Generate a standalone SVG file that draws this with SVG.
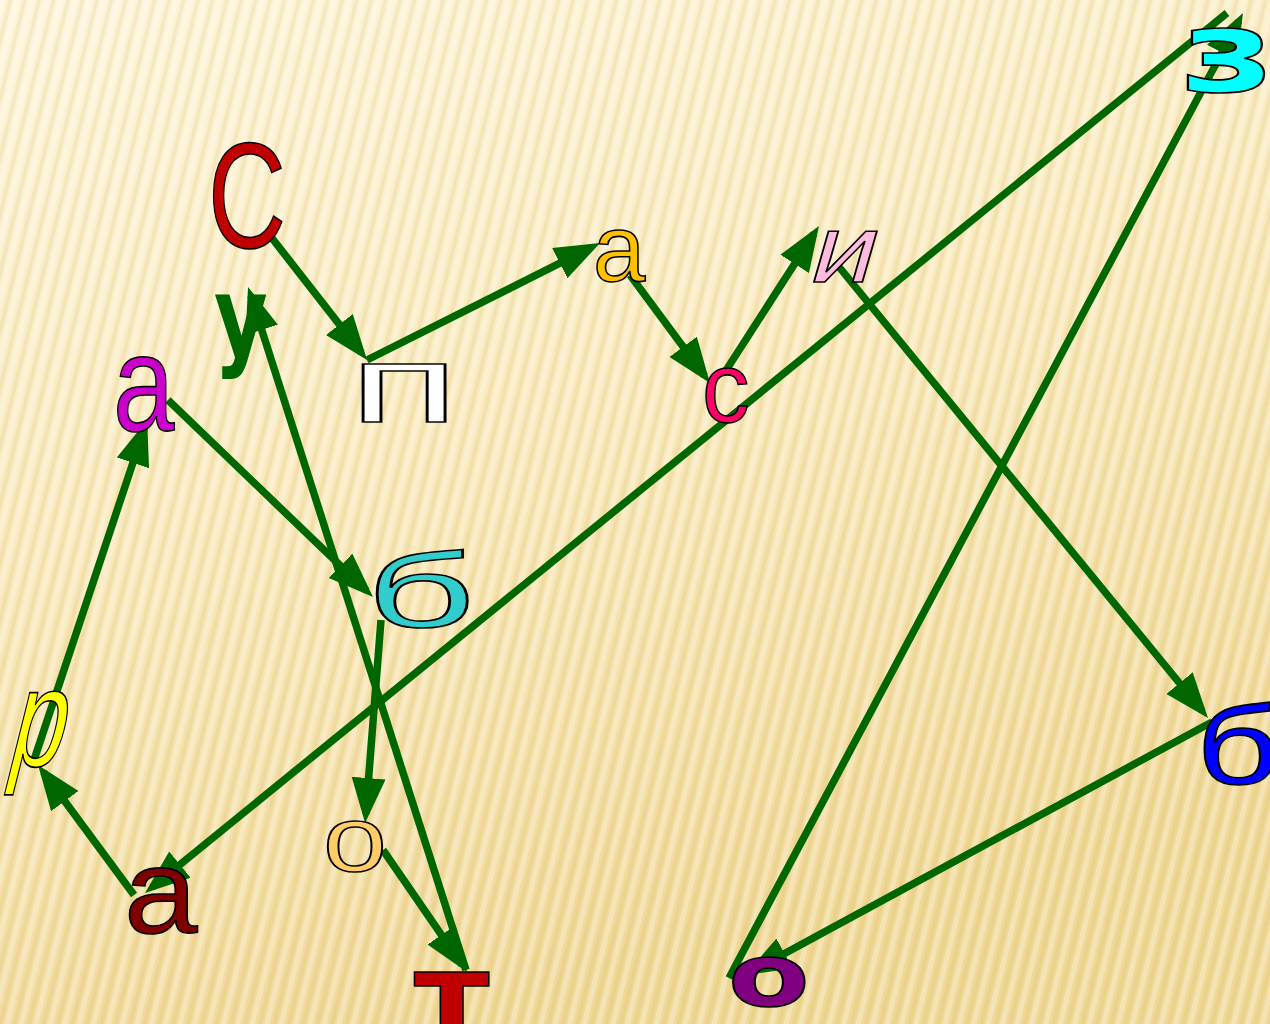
<svg xmlns="http://www.w3.org/2000/svg" width="1270" height="1024" viewBox="0 0 1270 1024">
<defs>
<linearGradient id="bg" x1="0" y1="0" x2="0.35" y2="1">
<stop offset="0" stop-color="#FDF5DA"/>
<stop offset="0.5" stop-color="#F9E9BC"/>
<stop offset="1" stop-color="#F0D897"/>
</linearGradient>
<pattern id="stripes" width="14" height="40" patternUnits="userSpaceOnUse" patternTransform="rotate(14)">
<rect x="0" y="0" width="5" height="40" fill="#FFFFFF" opacity="0.28"/>
<rect x="8" y="0" width="4" height="40" fill="#C8A850" opacity="0.14"/>
</pattern>
<marker id="ah" markerUnits="userSpaceOnUse" markerWidth="46" markerHeight="36" refX="36" refY="17" orient="auto">
<path d="M0,0 L45,17 L0,34 Z" fill="#006600"/>
</marker>
<style>
.c{fill:none;stroke:#006600;stroke-width:7.5;marker-end:url(#ah)}
.t{font-family:"Liberation Sans","DejaVu Sans",sans-serif;stroke:#000;stroke-width:1.6}
.b{font-family:"DejaVu Sans",sans-serif;font-weight:bold;stroke:#000;stroke-width:1.6}
</style>
</defs>
<rect width="1270" height="1024" fill="url(#bg)"/>
<rect width="1270" height="1024" fill="url(#stripes)"/>
<g id="connectors">
<line class="c" x1="268" y1="233" x2="361.5" y2="352.9"/>
<line class="c" x1="367" y1="360" x2="592" y2="247"/>
<line class="c" x1="630" y1="275" x2="704.6" y2="375.7"/>
<line class="c" x1="725" y1="372" x2="814.1" y2="233.6"/>
<line class="c" x1="835" y1="262" x2="1202.3" y2="711"/>
<line class="c" x1="1212" y1="722" x2="752.9" y2="970.7"/>
<line class="c" x1="729" y1="978" x2="1238.8" y2="21"/>
<line class="c" x1="1227" y1="13" x2="152" y2="887.3"/>
<line class="c" x1="134" y1="895" x2="43.4" y2="772.2"/>
<line class="c" x1="34" y1="760" x2="144.3" y2="428.6"/>
<line class="c" x1="168" y1="400" x2="366.5" y2="590.8"/>
<line class="c" x1="381" y1="620" x2="365.8" y2="814"/>
<line class="c" x1="383" y1="850" x2="461.9" y2="964.6"/>
<line class="c" x1="466" y1="970" x2="250.8" y2="295.6"/>
</g>
<g id="n-S"><text class="t" transform="translate(208,248) scale(0.72,1)" font-size="150" fill="#C00000">С</text></g>
<g id="n-p"><text class="t" transform="translate(349,422) scale(1.85,1)" font-size="110" fill="#FFFFFF">п</text></g>
<g id="n-a1"><text class="t" transform="translate(593,281)" font-size="94" fill="#FFC000">а</text></g>
<g id="n-s"><text class="t" transform="translate(702,422) scale(0.95,1)" font-size="100" fill="#FF0066">с</text></g>
<g id="n-i"><text class="t" transform="translate(806,282) skewX(-16) scale(1.2,1)" font-size="96" fill="#FFBBDD">и</text></g>
<g id="n-b1"><text class="t" transform="translate(1196,784) scale(1.3,1)" font-size="112" fill="#0000FF">б</text></g>
<g id="n-o1"><text class="b" transform="translate(728,1006) scale(1.35,1)" font-size="88" fill="#800080">о</text></g>
<g id="n-z"><text class="b" transform="translate(1180,91) scale(1.45,1)" font-size="112" fill="#00FFFF">з</text></g>
<g id="n-a2"><text class="t" transform="translate(124,933) scale(1.1,1)" font-size="120" fill="#800000">а</text></g>
<g id="n-r"><text class="t" transform="translate(5,766) skewX(-14) scale(0.7,1)" font-size="139" fill="#FFFF00">р</text></g>
<g id="n-a3"><text class="t" transform="translate(113,431) scale(0.8,1)" font-size="138" fill="#CC00CC">а</text></g>
<g id="n-b2"><text class="t" transform="translate(366,627) scale(1.8,1)" font-size="106" fill="#33CCCC">б</text></g>
<g id="n-o2"><text class="t" transform="translate(323,871) scale(1.25,1)" font-size="92" fill="#FFCC66">о</text></g>
<g id="n-t"><text class="b" transform="translate(414,1043) scale(1.0,1)" font-size="130" fill="#C00000">т</text></g>
<g id="n-u"><text transform="translate(214,355) scale(0.75,1)" font-family="'DejaVu Sans',sans-serif" font-weight="bold" font-size="110" fill="#006600">у</text></g>
</svg>
